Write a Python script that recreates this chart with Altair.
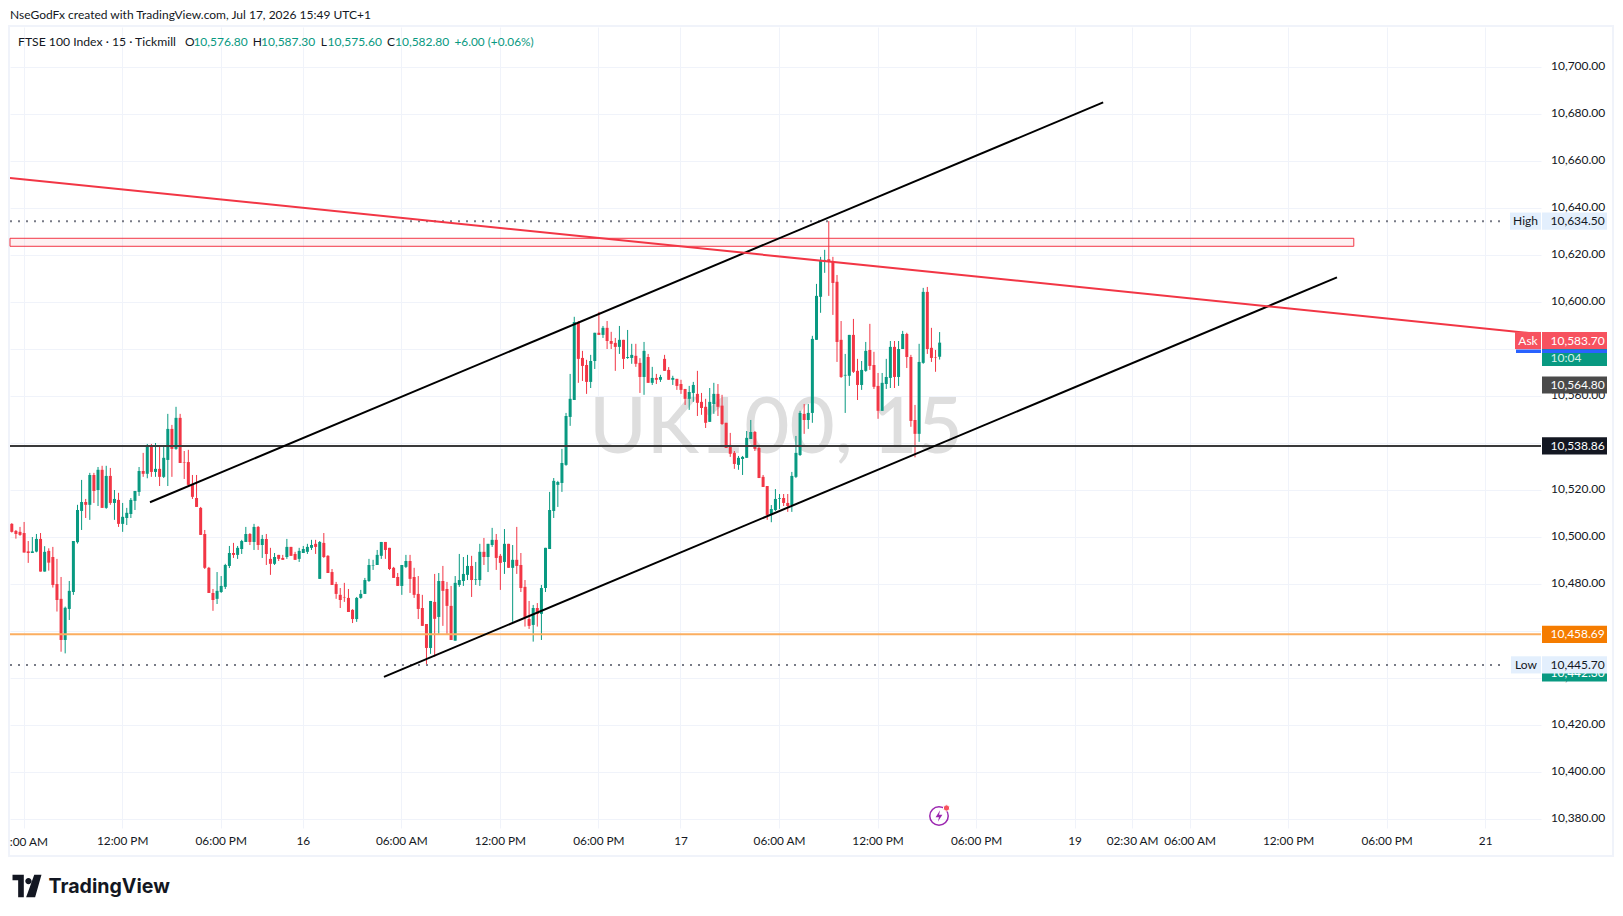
import altair as alt
import pandas as pd

# (open, high, low, close) per 15-minute bar
day_15 = [
(10505.7,10506,10502,10502.3),(10502.7,10503.1,10499.4,10501.4),(10502.3,10504.4,10500.6,10501),(10501.8,10506.5,10493.5,10493.5),
(10494,10498.4,10489.1,10493.3),(10493.3,10500.1,10493.3,10494),(10493.9,10501.4,10493.6,10499.3),(10499.3,10501.8,10485.4,10485.4),
(10485.4,10496.2,10485.4,10493.8),(10494.2,10495.3,10485.8,10489.2),(10491.6,10495.9,10478.6,10479.7),(10480.1,10490.8,10468.4,10473.3),
(10473.8,10483.1,10451.3,10456.3),(10456.3,10470.5,10450.6,10470),(10469.5,10481.4,10464.8,10477.2),(10476.7,10498.4,10475.5,10498.4),
(10497.9,10513.8,10497.3,10511.6),(10511.2,10524.4,10503.1,10515),(10515,10516.3,10508.2,10513.8),(10513.8,10527.4,10507.4,10526.5),
(10526.5,10527.4,10514.6,10519.7),(10520.1,10529.9,10513.3,10528.7),(10528.7,10530.4,10512.5,10512.5),(10512.5,10530.4,10512.1,10526.1),
(10526.1,10529.5,10513.8,10514.6),(10514.6,10520.1,10507.4,10516.3),(10515.9,10518.9,10504.4,10505.7),(10505.7,10514.6,10502.3,10508.7),
(10508.2,10512.5,10505.2,10510.4),(10509.9,10516.7,10508.2,10515.9),(10515.5,10519.7,10511.6,10519.7),(10519.3,10529.9,10517.6,10528.2),
(10528.2,10535.9,10525.7,10527),(10527,10539.7,10525.1,10538.9),(10538.9,10539.7,10525.7,10527.8),(10527.8,10540.1,10525.7,10529.1),
(10529.1,10538.9,10521.8,10525.7),(10525.7,10538.9,10525.2,10533.8),(10532.9,10552.5,10521.8,10546.1),(10546.1,10547.8,10525.7,10537.6),
(10537.6,10555.5,10537.2,10550.8),(10550.8,10552.5,10531.6,10531.6),(10532,10536.7,10524.8,10531.8),(10532,10537.2,10521.8,10522.3),
(10522.7,10526.5,10516.3,10517.2),(10516.7,10526.5,10512.9,10512.9),(10512.5,10512.9,10501,10501),(10501.4,10503.1,10486.5,10487),
(10487,10487.4,10476.3,10476.3),(10476.3,10478,10468.7,10473.3),(10473.8,10485.2,10471.6,10477.2),(10476.7,10483.5,10476.3,10479.3),
(10478.9,10488.7,10478,10488.2),(10487.8,10496.3,10486.9,10493.3),(10493.3,10497.6,10491.2,10492.5),(10492.5,10496.3,10490.8,10495.5),
(10495,10498.9,10492.9,10498.4),(10498,10504.4,10498,10501.4),(10501.4,10501.8,10496.7,10498),(10498,10505.7,10494.6,10504.4),
(10504.4,10504.8,10494.6,10496.7),(10496.7,10501,10491.2,10499.3),(10499.3,10501.4,10488.2,10492.9),(10490.8,10495.5,10484,10488.7),
(10488.7,10493.3,10488.2,10491.6),(10492.5,10492.5,10489.9,10490.8),(10491.2,10492.5,10490.4,10490.4),(10491.6,10499.3,10490.8,10495.9),
(10495.9,10495.9,10492.1,10492.1),(10492.9,10493.8,10490.4,10490.4),(10490.8,10495.5,10489.5,10494.2),
]
day_16 = [
(10493.3,10496.3,10493.3,10495),(10493.8,10497.2,10492.9,10495.9),(10495.5,10498.9,10494.6,10496.7),(10497.2,10498.9,10492.9,10495.9),
(10482.3,10498.4,10482.3,10498),(10497.6,10501.8,10491.2,10491.6),(10492.1,10492.4,10484.8,10484.8),(10485.2,10486.5,10479.7,10479.7),
(10480.1,10481,10473.8,10475.9),(10475.5,10478.4,10469.9,10473.3),(10474.6,10480.6,10472.5,10474.4),(10474.2,10478,10468.2,10468.2),
(10469.1,10469.4,10463.5,10465.2),(10465.2,10474.6,10464,10474.2),(10474.2,10477.6,10473.8,10475.9),(10475.9,10482.7,10475.9,10481.8),
(10481.4,10490.8,10481,10488.2),(10487.8,10490.4,10486.1,10488),(10488.2,10494.6,10488.2,10492.5),(10492.1,10498,10490.8,10498),
(10498,10498,10490.8,10494.6),(10495.5,10495.5,10486.1,10486.5),(10487,10487.4,10482.7,10482.7),(10483.1,10484.8,10479.3,10479.3),
(10479.3,10488.2,10475.5,10488.2),(10487.4,10492.5,10486.9,10489.9),(10489.9,10492.5,10476.3,10482.3),(10483.1,10487,10474.2,10475.5),
(10475.9,10483.5,10465.2,10469.5),(10469.9,10475.5,10462.3,10462.3),(10463.1,10463.1,10445.7,10452.9),(10452.9,10472.9,10450.4,10472.9),
(10472.5,10484.4,10449.2,10465.3),(10466.1,10484.8,10458.9,10481.4),(10481.4,10487.8,10462.3,10477.2),(10478,10481,10458.4,10470.8),
(10470.8,10479.3,10456.3,10456.3),(10456,10483.5,10456,10480.6),(10479.7,10492.9,10478.9,10481.8),(10481.4,10491.6,10479.3,10484.4),
(10484,10492.5,10481.8,10487.8),(10487.8,10492.1,10474.6,10481.8),(10481.8,10489.5,10479.7,10482.1),(10481.8,10497.2,10479.3,10493.8),
(10493.8,10499.7,10488.2,10491.6),(10491.6,10497.2,10485.2,10497.2),(10496.7,10504,10495.9,10498.9),(10498.9,10501.4,10486.1,10491.2),
(10492.1,10492.9,10477.6,10489.1),(10489.5,10503.5,10484.4,10497.2),(10497.2,10497.2,10487,10487),(10487,10496.7,10464,10490.4),
(10490.4,10504.4,10484.4,10487.8),(10488.2,10493.3,10476.7,10478.4),(10478.9,10481.8,10462,10465.7),(10465.2,10472.9,10461,10462.3),
(10462.7,10471.2,10455.6,10469.9),(10469.9,10472,10462,10467.4),(10467.4,10479.7,10456.3,10478.4),(10478.4,10495.5,10476.7,10495.5),
(10495,10519.3,10495,10511.6),(10511.2,10525.2,10508.2,10524),(10522.3,10524,10512.9,10523.5),(10523.1,10537.6,10519.3,10531.6),
(10530.8,10552.9,10530.4,10551.6),(10551.2,10569.5,10547.4,10558.9),(10558.4,10593.8,10558.4,10591.6),(10591.6,10592,10565.7,10575.9),
(10576.3,10579.3,10566.5,10572.9),(10573.3,10575.5,10561,10566.1),(10566.1,10577.6,10563.5,10575),(10575,10587,10571.6,10587),
(10587,10595.9,10586.1,10586.1),(10586.1,10589.9,10584.8,10589.1),(10589.1,10592,10580.1,10583.5),(10583.5,10587.4,10580.1,10582.3),
(10582.7,10584.8,10570.8,10581),(10581,10589.9,10578,10584),(10584,10584,10571.6,10575.9),(10576.3,10588.2,10575.9,10576.7),
(10576.3,10582.3,10573.8,10577.6),(10577.2,10582.3,10572.5,10573.8),(10574.2,10576.2,10561.4,10568.2),(10568.2,10583.1,10560.6,10579.3),
(10576.7,10578,10565.7,10565.7),(10565.7,10572.5,10564.8,10567.8),(10567.8,10569.5,10565.2,10567),(10567,10569.1,10566.1,10568.2),
(10575.9,10577.6,10570.8,10570.8),(10571.2,10572.4,10567,10567),(10567,10568.7,10564.8,10567.8),(10567.4,10567.4,10562.7,10564.4),
]
day_17 = [
(10565.2,10567,10561,10562.7),(10563.1,10563.1,10556.3,10558.9),(10558.9,10564.4,10554.2,10561.8),(10561.4,10566.1,10557.6,10564.8),
(10561,10570.8,10551.6,10557.2),(10557.6,10561.4,10552.1,10555),(10555.5,10558.9,10546.5,10548.7),(10549.1,10563.5,10549.1,10557.6),
(10556.7,10565.7,10552.5,10561),(10561,10565.2,10551.6,10555.5),(10556,10560.6,10547.8,10548.2),(10548.7,10548.7,10538,10538),
(10539.3,10544.4,10534.2,10535.5),(10535.9,10536.7,10529.1,10531.2),(10530.8,10534.6,10528.7,10533.8),(10533.3,10534.6,10526.5,10534.2),
(10533.8,10545.2,10533.8,10542.3),(10541.8,10549.9,10541.8,10544.8),(10544.8,10545.2,10536.7,10537.6),(10538,10538.4,10525.2,10525.2),
(10525.7,10526.5,10521.4,10521.4),(10521.8,10521.8,10507.4,10509.5),(10509.5,10513.7,10506.4,10512),(10511.6,10520.5,10511.2,10516.3),
(10516.3,10518.4,10512,10516.6),(10516.7,10518.4,10513.3,10514.6),(10514.6,10518.4,10510.8,10513.3),(10513.7,10527.8,10510.8,10526.1),
(10525.7,10543.1,10525.2,10535.9),(10535,10553.8,10534.6,10552.9),(10552.5,10556.7,10544,10549.9),(10549.9,10556.7,10546.1,10552.9),
(10552.9,10585.7,10548.7,10584.4),(10584,10607.8,10584,10602.7),(10602.3,10619.3,10595.5,10618),(10617.6,10622.3,10612.5,10618),
(10618.3,10634.5,10602.7,10617.2),(10617.2,10619.3,10594.6,10608.2),(10608.7,10611.6,10574.6,10583.1),(10584,10592,10567.8,10568.2),
(10568.8,10578,10552.9,10569.1),(10568.7,10586.1,10564.4,10586.1),(10586.1,10592.9,10569.9,10570.4),(10570.8,10575.9,10558.4,10564.8),
(10564.8,10575,10562.7,10571.2),(10570.8,10583.1,10570.4,10579.3),(10579.7,10590.8,10571.2,10572.9),(10573.3,10578.9,10563.1,10564),
(10564.4,10569.9,10550.4,10553.8),(10553.8,10569.9,10553.8,10565.7),(10565.2,10575.9,10563.1,10568.2),(10567.8,10583.5,10563.5,10581),
(10581,10583.5,10563.5,10568.2),(10568.2,10583.5,10564.4,10580.1),(10580.1,10587.8,10580.1,10586.5),(10586.5,10587,10572,10576.7),
(10576.7,10577.6,10547,10549.5),(10549.9,10556.3,10534,10544),(10544,10582.3,10540.6,10574.6),(10574.2,10606.1,10573.8,10604.4),
(10604.4,10606.5,10578,10580.1),(10580.6,10589.1,10574.6,10576.3),(10576.7,10579.7,10570.4,10576.5),(10576.8,10587.3,10575.6,10582.8),
]

GREEN, RED = "#089981", "#F23645"
INK = "#131722"
GRID = "#F0F3FA"
FONT = "Lato"

# page-pixel origin of the price pane, and its size
PL, PT, PW, PH = 10, 27, 1531, 801
x_scale = alt.Scale(domain=[-0.317, 372.6], nice=False, zero=False, padding=0)
y_scale = alt.Scale(domain=[10376.3, 10717.1], nice=False, zero=False, padding=0)

rows = []
for i, (o, h, l, c) in enumerate(day_15 + day_16 + day_17):
    rows.append(dict(i=i, o=o, h=h, l=l, c=c, col=GREEN if c >= o else RED))
bars = pd.DataFrame(rows)

price_ticks = list(range(10380, 10720, 20))
time_ticks = [3, 27, 51, 71, 95, 119, 143, 163, 187, 211, 235, 259, 273, 287, 311, 335, 359]
time_labels = ["", "12:00 PM", "06:00 PM", "16", "06:00 AM", "12:00 PM", "06:00 PM", "17", "06:00 AM",
               "12:00 PM", "06:00 PM", "19", "02:30 AM", "06:00 AM", "12:00 PM", "06:00 PM", "21"]
label_expr = "{" + ",".join(f"'{t}':'{s}'" for t, s in zip(time_ticks, time_labels)) + "}[datum.value]"

x_axis = alt.Axis(
    values=time_ticks, labelExpr=label_expr, grid=True, gridColor=GRID, gridWidth=1, domain=False, ticks=False,
    labelPadding=7, labelFont=FONT, labelFontSize=11.8, labelColor=INK, labelOverlap=False, labelFlush=False)
y_axis = alt.Axis(
    orient="right", values=price_ticks, labelExpr="format(datum.value, ',.2f')", grid=True, gridColor=GRID, gridWidth=1,
    domain=False, ticks=False, labelPadding=9.5, labelFont=FONT, labelFontSize=12, labelColor=INK,
    labelAlign="left", labelOverlap=False, labelFlush=False, labelOffset=-1.5)


def X(field):
    return alt.X(field, scale=x_scale, axis=x_axis, title=None)


def Y(field):
    return alt.Y(field, scale=y_scale, axis=y_axis, title=None)


def px(v):
    return alt.value(v - PL)


def py(v):
    return alt.value(v - PT)


def text(s, x, y, color=INK, size=12, align="left", weight="normal", font=FONT, opacity=1):
    return alt.Chart(pd.DataFrame({"t": [s]})).mark_text(
        align=align, baseline="middle", fontSize=size, font=font, color=color, fontWeight=weight, opacity=opacity
    ).encode(x=px(x), y=py(y), text="t:N")


def box(x1, x2, y1, y2, fill, stroke=None, sw=1):
    kw = dict(fill=fill)
    if stroke:
        kw.update(stroke=stroke, strokeWidth=sw)
    return alt.Chart(pd.DataFrame({"a": [0]})).mark_rect(**kw).encode(x=px(x1), x2=px(x2), y=py(y1), y2=py(y2))


def price_box(x1, x2, price, fill, half=3.65):
    d = pd.DataFrame({"top": [price + half], "bot": [price - half]})
    return alt.Chart(d).mark_rect(fill=fill).encode(x=px(x1), x2=px(x2), y=Y("top:Q"), y2="bot:Q")


def price_text(s, price, color, x=1550.5, align="left"):
    d = pd.DataFrame({"t": [s], "p": [price]})
    return alt.Chart(d).mark_text(align=align, baseline="middle", fontSize=12, font=FONT, color=color).encode(
        x=px(x), y=Y("p:Q"), text="t:N")


def hline(price, color, width, x2=1541, dash=None, x1=10):
    kw = dict(color=color, strokeWidth=width)
    if dash:
        kw["strokeDash"] = dash
    return alt.Chart(pd.DataFrame({"p": [price]})).mark_rule(**kw).encode(x=px(x1), x2=px(x2), y=Y("p:Q"))


def trend(i1, p1, i2, p2, color, width=2):
    d = pd.DataFrame({"i": [i1, i2], "p": [p1, p2]})
    return alt.Chart(d).mark_line(color=color, strokeWidth=width, clip=True).encode(x=X("i:Q"), y=Y("p:Q"))


frame = box(9, 1613, 26, 856, "transparent", "#F0F3FA", 2)
watermark = text("UK100, 15", 776, 430, color="#DEDEDE", size=78, align="center", font="Lato", weight=500)

wicks = alt.Chart(bars).mark_rule(strokeWidth=1, xOffset=0.5).encode(
    x=X("i:Q"), y=Y("h:Q"), y2="l:Q", color=alt.Color("col:N", scale=None))
bodies = alt.Chart(bars).mark_bar(size=3, xOffset=0.5).encode(
    x=X("i:Q"), y=Y("o:Q"), y2="c:Q", color=alt.Color("col:N", scale=None))

zone_data = pd.DataFrame({"i1": [-0.317], "i2": [327.0], "a": [10627.2], "b": [10623.8]})
zone = alt.Chart(zone_data).mark_rect(fill=RED, fillOpacity=0.07).encode(
    x=X("i1:Q"), x2="i2:Q", y=Y("a:Q"), y2="b:Q")
zone_edge = alt.Chart(zone_data).mark_rect(fill="transparent", stroke=RED, strokeWidth=1).encode(
    x=X("i1:Q"), x2="i2:Q", y=Y("a:Q"), y2="b:Q")

# TradingView logo and the small alert badge
logo_mark = alt.Chart(pd.DataFrame({"a": [0]})).mark_point(
    shape="M-1 -0.78H-0.22V0.78H-0.61V-0.39H-1ZM0.56 0.78H-0.06L0.5 -0.78H1ZM0.1 -0.56A0.22 0.22 0 1 1 0.1 -0.12A0.22 0.22 0 1 1 0.1 -0.56Z",
    filled=True, fill=INK, stroke=None, size=840, opacity=1).encode(x=px(27), y=py(886))
badge = alt.Chart(pd.DataFrame({"a": [0]})).mark_point(
    shape="circle", filled=False, stroke="#9C27B0", strokeWidth=1.5, size=340, opacity=1).encode(x=px(939), y=py(816))
bolt = alt.Chart(pd.DataFrame({"a": [0]})).mark_point(
    shape="M0.2 -1L-0.6 0.2H0L-0.2 1L0.6 -0.2H0Z", filled=True, fill="#9C27B0", stroke=None, size=130, opacity=1
).encode(x=px(939), y=py(816))
badge_dot = alt.Chart(pd.DataFrame({"a": [0]})).mark_point(
    shape="circle", filled=True, fill="#F7525F", stroke="#FFFFFF", strokeWidth=1, size=40, opacity=1).encode(x=px(946.5), y=py(808))

layers = [
    wicks.mark_rule(strokeWidth=1, xOffset=0.5, opacity=0),  # carries the axes
    frame, watermark, wicks, bodies,
    zone, zone_edge,
    hline(10634.5, "#787B86", 2, x2=1503, dash=[2, 6]),
    hline(10445.7, "#787B86", 2, x2=1503, dash=[2, 6]),
    hline(10538.86, "#3A3A3A", 2),
    hline(10458.69, "#FBAE60", 2),
    trend(33.78, 10514.9, 265.95, 10685, "#000000"),
    trend(90.77, 10440.6, 322.9, 10610.6, "#000000"),
    trend(-0.32, 10652.9, 372.6, 10586.4, RED),

    # price tags on the right-hand axis
    price_box(1542, 1607, 10442.3, GREEN),
    price_text("10,442.30", 10442.3, "#FFFFFF"),
    price_box(1510, 1541, 10634.5, "#E3EFFD"),
    price_box(1542, 1607, 10634.5, "#E3EFFD"),
    price_text("High", 10634.5, INK, x=1525.5, align="center"),
    price_text("10,634.50", 10634.5, INK),
    price_box(1511, 1541, 10445.7, "#E3EFFD"),
    price_box(1542, 1607, 10445.7, "#E3EFFD"),
    price_text("Low", 10445.7, INK, x=1526, align="center"),
    price_text("10,445.70", 10445.7, INK),
    price_box(1542, 1607, 10564.8, "#4A4A4A"),
    price_text("10,564.80", 10564.8, "#FFFFFF"),
    price_box(1542, 1607, 10538.86, INK),
    price_text("10,538.86", 10538.86, "#FFFFFF"),
    price_box(1542, 1607, 10458.69, "#F57C00"),
    price_text("10,458.69", 10458.69, "#FFFFFF"),
    box(1542, 1607, 349, 366, GREEN),
    text("10:04", 1550.5, 358, color="#D6F0EA"),
    box(1516, 1541, 349.5, 353, "#2962FF"),
    box(1542, 1607, 349.5, 353, "#2962FF"),
    price_box(1515, 1541, 10583.7, "#F7525F"),
    price_box(1542, 1607, 10583.7, "#F7525F"),
    price_text("Ask", 10583.7, "#FFFFFF", x=1528, align="center"),
    price_text("10,583.70", 10583.7, "#FFFFFF"),

    # header
    text("NseGodFx created with TradingView.com, Jul 17, 2026 15:49 UTC+1", 10, 15, size=12),
    text("FTSE 100 Index · 15 · Tickmill", 18, 42, size=12.2),
    text("O", 185, 42), text("10,576.80", 193.4, 42, color=GREEN),
    text("H", 252.8, 42), text("10,587.30", 261, 42, color=GREEN),
    text("L", 320.7, 42), text("10,575.60", 327.6, 42, color=GREEN),
    text("C", 387, 42), text("10,582.80", 395, 42, color=GREEN),
    text("+6.00 (+0.06%)", 454.5, 42, color=GREEN, size=11.8),
    text(":00 AM", 48, 841.5, align="right", size=11.8),
    text("TradingView", 48.5, 886.5, size=19.6, weight="bold", font="Inter"),
    logo_mark, badge, bolt, badge_dot,
]

chart = alt.layer(*layers).properties(
    width=PW, height=PH,
    autosize=alt.AutoSizeParams(type="none"),
    padding={"left": PL - 8, "top": PT - 8, "right": 1623 - 16 - (PL - 8) - PW, "bottom": 900 - (PT - 8) - PH},
    background="#FFFFFF",
).configure_view(strokeWidth=0)

chart.save("out.html", embed_options={"renderer": "svg", "actions": False})
